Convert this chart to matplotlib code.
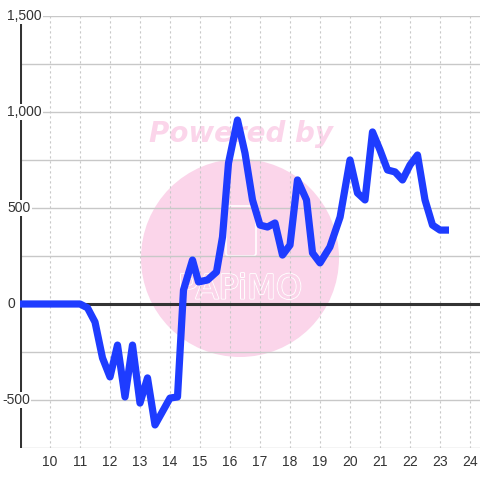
import matplotlib
matplotlib.use("Agg")
import matplotlib.pyplot as plt
import matplotlib.transforms as mtransforms
from matplotlib.patches import Circle, FancyBboxPatch
import matplotlib.patheffects as pe

# ---- data ----
hours = [9.0, 9.25, 9.5, 9.75, 10.0, 10.25, 10.5, 10.75, 11.0, 11.25,
         11.5, 11.75, 12.0, 12.25, 12.5, 12.75, 13.0, 13.25, 13.5, 14.0,
         14.25, 14.45, 14.75, 14.95, 15.25, 15.55, 15.75, 15.95, 16.25, 16.5,
         16.75, 17.0, 17.25, 17.5, 17.75, 18.0, 18.25, 18.55, 18.75, 19.0,
         19.33, 19.67, 20.0, 20.25, 20.5, 20.75, 21.0, 21.25, 21.5, 21.75,
         22.0, 22.25, 22.5, 22.75, 23.0, 23.3]
values = [0, 0, 0, 0, 0, 0, 0, 0, 0, -20,
          -94, -281, -380, -214, -484, -214, -516, -385, -630, -490,
          -484, 73, 229, 115, 125, 167, 349, 734, 958, 786,
          542, 411, 401, 422, 255, 307, 646, 542, 266, 214,
          297, 453, 750, 578, 542, 896, 802, 698, 688, 646,
          724, 776, 542, 411, 385, 385]
x_ticks = list(range(10, 25))
y_label_vals = [1500, 1000, 500, 0, -500]
y_grid_vals = [1500, 1250, 1000, 750, 500, 250, -250, -500, -750]

fig = plt.figure(figsize=(4.8, 4.8), dpi=100, facecolor="white")
ax = fig.add_axes([20/480, 32/480, 460/480, 432/480])
ax.set_facecolor("none")
ax.set_xlim(9, 9 + 460/30)
ax.set_ylim(-750, 1500)

# watermark (behind grid)
pink = "#fbd5ea"
circ = Circle((240/480, 1 - 258/480), 99/480, transform=fig.transFigure,
              facecolor=pink, edgecolor="none", zorder=-5)
fig.patches.append(circ)
rect = FancyBboxPatch((226/480, 1 - 256/480), 30/480, 50/480,
                      boxstyle="round,pad=0,rounding_size=0.006",
                      transform=fig.transFigure, facecolor="none",
                      edgecolor="white", linewidth=1.2, zorder=-4)
fig.patches.append(rect)
fig.text(241/480, 1 - 134/480, "Powered by", ha="center", va="center",
         fontsize=20, fontweight="bold", style="italic", color=pink,
         family="DejaVu Sans", zorder=-4)
t = fig.text(240/480, 1 - 289/480, "PAPiMO", ha="center", va="center",
             fontsize=24, color=pink, family="DejaVu Sans", zorder=-4)
t.set_path_effects([pe.withStroke(linewidth=1.5, foreground="white"),
                    pe.Normal()])

# grid
for v in y_grid_vals:
    ax.axhline(v, color="#c8c8c8", lw=1.0, zorder=1)
for xv in x_ticks:
    ax.axvline(xv, color="#c8c8c8", lw=0.8, ls=(0, (2, 2.5)), zorder=1)

ax.axhline(0, color="#333333", lw=2.2, zorder=2)
ax.axvline(9, color="#333333", lw=2.2, zorder=2)

for s in ax.spines.values():
    s.set_visible(False)
ax.set_yticks([])
ax.set_xticks(x_ticks)
ax.set_xticklabels([str(v) for v in x_ticks], color="#333333", fontsize=10,
                   family="Liberation Sans")
ax.tick_params(axis="x", length=0, pad=5)

ax.plot(hours, values, color="#1e3cff", lw=5.2, solid_joinstyle="round",
        solid_capstyle="butt", zorder=3)

# y labels with white background, overlapping the left axis line
label_tf = mtransforms.blended_transform_factory(fig.transFigure, ax.transData)
for v in y_label_vals:
    lab = f"{v:,}"
    xpix = 7 if v >= 0 else 2
    ax.text(xpix/480, v, lab, transform=label_tf,
            ha="left", va="center", fontsize=10, color="#333333",
            family="Liberation Sans", zorder=5, clip_on=False,
            bbox=dict(facecolor="white", edgecolor="none", pad=1.0))

fig.savefig("out.png", dpi=100, facecolor="white")
